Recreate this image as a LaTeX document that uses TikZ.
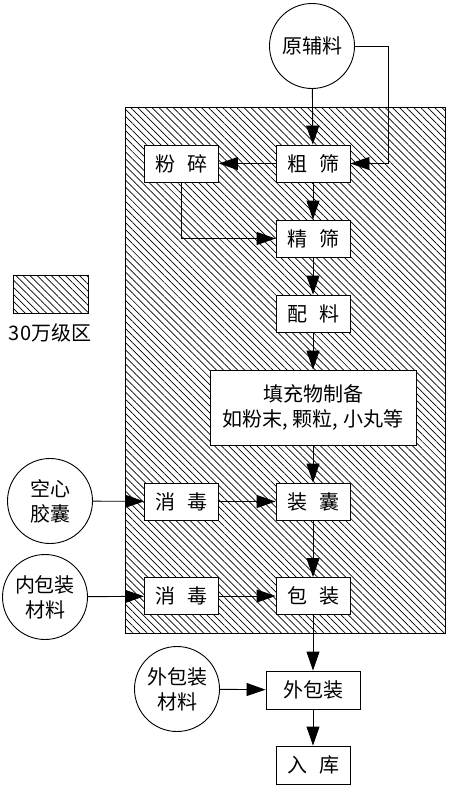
\documentclass[tikz,border=0pt]{standalone}
\usepackage{fontspec}
\setmainfont{Noto Sans CJK SC}
\usetikzlibrary{arrows.meta,patterns.meta}

\begin{document}
\begin{tikzpicture}[x=1pt,y=-1pt,line width=0.9pt,
  font=\fontsize{20}{25}\selectfont,
  box/.style={draw,fill=white,minimum width=74pt,minimum height=37pt,inner sep=0pt,align=center},
  src/.style={draw,fill=white,circle,minimum size=85pt,inner sep=0pt,align=center},
  arr/.style={-{Triangle[length=19pt,width=13pt]}},
  hatch/.style={draw,pattern={Lines[angle=-45,distance=5pt,line width=0.7pt]}}]
   \useasboundingbox (0,0) rectangle (450,790);
   % clean zone and legend
   \draw[hatch] (125,107) rectangle (445,633);
   \draw[hatch] (13,275) rectangle (88,313);
   \node (legend) at (50,333) {30万级区};
   % main line
   \node[src] (raw) at (312,46) {原辅料};
   \node[box] (coarse) at (313,163.5) {粗\hspace{.6em}筛};
   \node[box] (mill) at (181.5,163.5) {粉\hspace{.6em}碎};
   \node[box] (fine) at (313,238.5) {精\hspace{.6em}筛};
   \node[box] (mix) at (313,313.5) {配\hspace{.6em}料};
   \node[box,minimum width=206pt,minimum height=75pt] (fill) at (313,407.5)
     {填充物制备\\如粉末, 颗粒, 小丸等};
   \node[box] (encap) at (313,501.5) {装\hspace{.6em}囊};
   \node[box] (pack) at (313,596) {包\hspace{.6em}装};
   \node[box,minimum width=94pt,minimum height=38pt] (outer) at (313,690) {外包装};
   \node[box,minimum height=38pt] (store) at (313,765) {入\hspace{.6em}库};
   % side inputs
   \node[box] (steriA) at (181.5,501.5) {消\hspace{.6em}毒};
   \node[box] (steriB) at (181.5,596) {消\hspace{.6em}毒};
   \node[src] (shell) at (50,501) {空心\\胶囊};
   \node[src] (inner) at (45,597) {内包装\\材料};
   \node[src] (outmat) at (177,689) {外包装\\材料};
   % connectors
   \draw[arr] (raw) -- (coarse);
   \draw[arr] (raw.east) -- ++(33,0) |- (coarse.east);
   \draw[arr] (coarse) -- (mill);
   \draw[arr] (coarse) -- (fine);
   \draw[arr] (mill.south) |- (fine.west);
   \draw[arr] (fine) -- (mix);
   \draw[arr] (mix) -- (fill);
   \draw[arr] (fill) -- (encap);
   \draw[arr] (encap) -- (pack);
   \draw[arr] (pack) -- (outer);
   \draw[arr] (outer) -- (store);
   \draw[arr] (shell) -- (steriA);
   \draw[arr] (steriA) -- (encap);
   \draw[arr] (inner) -- (steriB);
   \draw[arr] (steriB) -- (pack);
   \draw[arr] (outmat) -- (outer);
  \end{tikzpicture}
\end{document}
